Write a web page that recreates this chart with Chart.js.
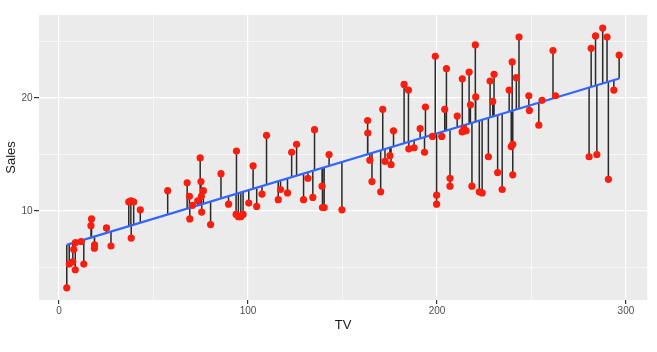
<!DOCTYPE html>
<html>
<head>
<meta charset="utf-8">
<script src="https://cdn.jsdelivr.net/npm/chart.js@4/dist/chart.umd.min.js"></script>
<style>
  html, body { margin: 0; padding: 0; background: #ffffff; }
  #wrap { width: 657px; height: 352px; }
</style>
</head>
<body>
<div id="wrap"><canvas id="c" width="657" height="352"></canvas></div>
<script>
// TV advertising budget (x) and Sales (y)
const tvValues = [
  4.1, 5.4, 7.3, 7.8, 8.6, 8.7, 11.7, 13.1, 16.9, 17.2,
  18.7, 18.8, 25.1, 27.5, 36.9, 38.0, 39.5, 38.2, 43.0, 57.5,
  67.8, 69.0, 69.2, 70.6, 73.4, 74.7, 75.1, 75.5, 75.3, 76.4,
  80.2, 85.7, 89.7, 93.9, 93.7, 94.9, 96.2, 97.4, 100.4, 102.7,
  104.6, 107.4, 109.8, 116.0, 117.2, 120.9, 123.1, 125.7, 129.4, 131.7,
  134.3, 135.2, 139.2, 139.4, 140.3, 142.9, 149.7, 163.3, 163.4, 164.5,
  165.6, 170.2, 171.3, 172.5, 175.1, 175.7, 177.0, 182.6, 184.9, 185.1,
  187.9, 191.1, 193.4, 193.9, 197.6, 199.1, 199.8, 199.8, 202.5, 204.1,
  205.0, 206.9, 206.9, 210.7, 213.4, 213.3, 214.3, 215.4, 217.0, 217.7,
  218.5, 220.3, 220.5, 222.4, 223.9, 227.2, 228.1, 229.5, 230.2, 232.1,
  234.5, 238.2, 239.8, 239.3, 240.1, 240.1, 242.0, 243.4, 248.6, 248.9,
  253.9, 255.6, 261.4, 262.7, 280.5, 281.6, 283.9, 284.6, 287.7, 290.0,
  290.7, 293.6, 296.4
];
const salesValues = [
  3.2, 5.3, 5.5, 6.6, 4.8, 7.2, 7.3, 5.3, 8.7, 9.3,
  6.7, 7.0, 8.5, 6.9, 10.8, 10.9, 10.8, 7.6, 10.1, 11.8,
  12.5, 11.3, 9.3, 10.5, 10.9, 14.7, 12.6, 9.9, 11.3, 11.8,
  8.8, 13.3, 10.6, 15.3, 9.7, 9.5, 9.5, 9.7, 10.7, 14.0,
  10.4, 11.5, 16.7, 11.0, 11.9, 11.6, 15.2, 15.9, 11.0, 12.9,
  11.2, 17.2, 12.2, 10.3, 10.3, 15.0, 10.1, 18.0, 16.9, 14.5,
  12.6, 11.7, 19.0, 14.4, 14.9, 14.1, 17.1, 21.2, 20.7, 15.5,
  15.6, 17.3, 15.2, 19.2, 16.6, 23.7, 11.4, 10.6, 16.6, 19.0,
  22.6, 12.9, 12.2, 18.4, 21.7, 17.0, 17.3, 17.1, 22.3, 19.4,
  12.2, 24.7, 20.1, 11.7, 11.6, 14.8, 21.5, 19.7, 22.1, 13.4,
  11.9, 20.7, 23.2, 15.7, 15.9, 13.2, 21.8, 25.4, 20.2, 18.9,
  17.6, 19.8, 24.2, 20.2, 14.8, 24.4, 25.5, 15.0, 26.2, 25.4,
  12.8, 20.7, 23.8
];
// least-squares line
const fitIntercept = 6.79;
const fitSlope = 0.0504;
// axis tick labels
const xTickLabels = [0, 100, 200, 300];
const yTickLabels = [10, 20];
const xGridValues = [0, 50, 100, 150, 200, 250, 300];
const yGridValues = [5, 10, 15, 20, 25];

const fit = x => fitIntercept + fitSlope * x;

const points = tvValues.map((x, i) => ({ x: x, y: salesValues[i] }));
const segments = [];
tvValues.forEach((x, i) => {
  segments.push({ x: x, y: salesValues[i] });
  segments.push({ x: x, y: fit(x) });
  segments.push({ x: x, y: null });
});
const minTV = Math.min(...tvValues), maxTV = Math.max(...tvValues);
const fitLine = [{ x: minTV, y: fit(minTV) }, { x: maxTV, y: fit(maxTV) }];

const panelBg = {
  id: 'panelBg',
  beforeDraw(chart) {
    const { ctx, chartArea: a } = chart;
    ctx.save();
    ctx.fillStyle = '#ffffff';
    ctx.fillRect(0, 0, chart.width, chart.height);
    ctx.fillStyle = '#EBEBEB';
    ctx.fillRect(a.left, a.top, a.right - a.left, a.bottom - a.top);
    ctx.restore();
  }
};

const tickFont = { family: '"Liberation Sans", Arial, sans-serif', size: 10 };
const titleFont = { family: '"Liberation Sans", Arial, sans-serif', size: 13 };

new Chart(document.getElementById('c'), {
  type: 'scatter',
  data: {
    datasets: [
      {
        label: 'residuals', data: segments, showLine: true, spanGaps: false,
        borderColor: '#2a2a2a', borderWidth: 1.5, pointRadius: 0, order: 3
      },
      {
        label: 'fit', data: fitLine, showLine: true,
        borderColor: '#3366FF', borderWidth: 2.2, pointRadius: 0, order: 2
      },
      {
        label: 'Sales', data: points, backgroundColor: '#FA1E0E', borderWidth: 0,
        pointRadius: 3.6, order: 1
      }
    ]
  },
  options: {
    responsive: false,
    animation: false,
    events: [],
    layout: { padding: { left: 0, right: 9.7, top: 15, bottom: 0 } },
    plugins: { legend: { display: false }, tooltip: { enabled: false } },
    scales: {
      x: {
        type: 'linear', min: -10.6, max: 311.3,
        afterBuildTicks: s => { s.ticks = xGridValues.map(v => ({ value: v })); },
        afterFit: s => { s.height = 52; },
        border: { display: false },
        grid: {
          color: '#ffffff',
          lineWidth: c => (c.tick && xTickLabels.includes(c.tick.value)) ? 1.2 : 0.6,
          tickColor: c => (c.tick && xTickLabels.includes(c.tick.value)) ? '#333333' : 'rgba(0,0,0,0)',
          tickLength: 4, drawTicks: true
        },
        ticks: {
          autoSkip: false, maxRotation: 0, padding: 1, color: '#4D4D4D', font: tickFont,
          callback: v => xTickLabels.includes(v) ? String(v) : ''
        },
        title: { display: true, text: 'TV', color: '#1a1a1a', font: titleFont, padding: { top: 0, bottom: 19 } }
      },
      y: {
        type: 'linear', min: 2.12, max: 27.35,
        afterBuildTicks: s => { s.ticks = yGridValues.map(v => ({ value: v })); },
        afterFit: s => { s.width = 39; },
        border: { display: false },
        grid: {
          color: '#ffffff',
          lineWidth: c => (c.tick && yTickLabels.includes(c.tick.value)) ? 1.2 : 0.6,
          tickColor: c => (c.tick && yTickLabels.includes(c.tick.value)) ? '#333333' : 'rgba(0,0,0,0)',
          tickLength: 5, drawTicks: true
        },
        ticks: {
          autoSkip: false, padding: 1.5, color: '#4D4D4D', font: tickFont,
          callback: v => yTickLabels.includes(v) ? String(v) : ''
        },
        title: { display: true, text: 'Sales', color: '#1a1a1a', font: titleFont, padding: { top: 3.7, bottom: 0 } }
      }
    }
  },
  plugins: [panelBg]
}, );
</script>
</body>
</html>
